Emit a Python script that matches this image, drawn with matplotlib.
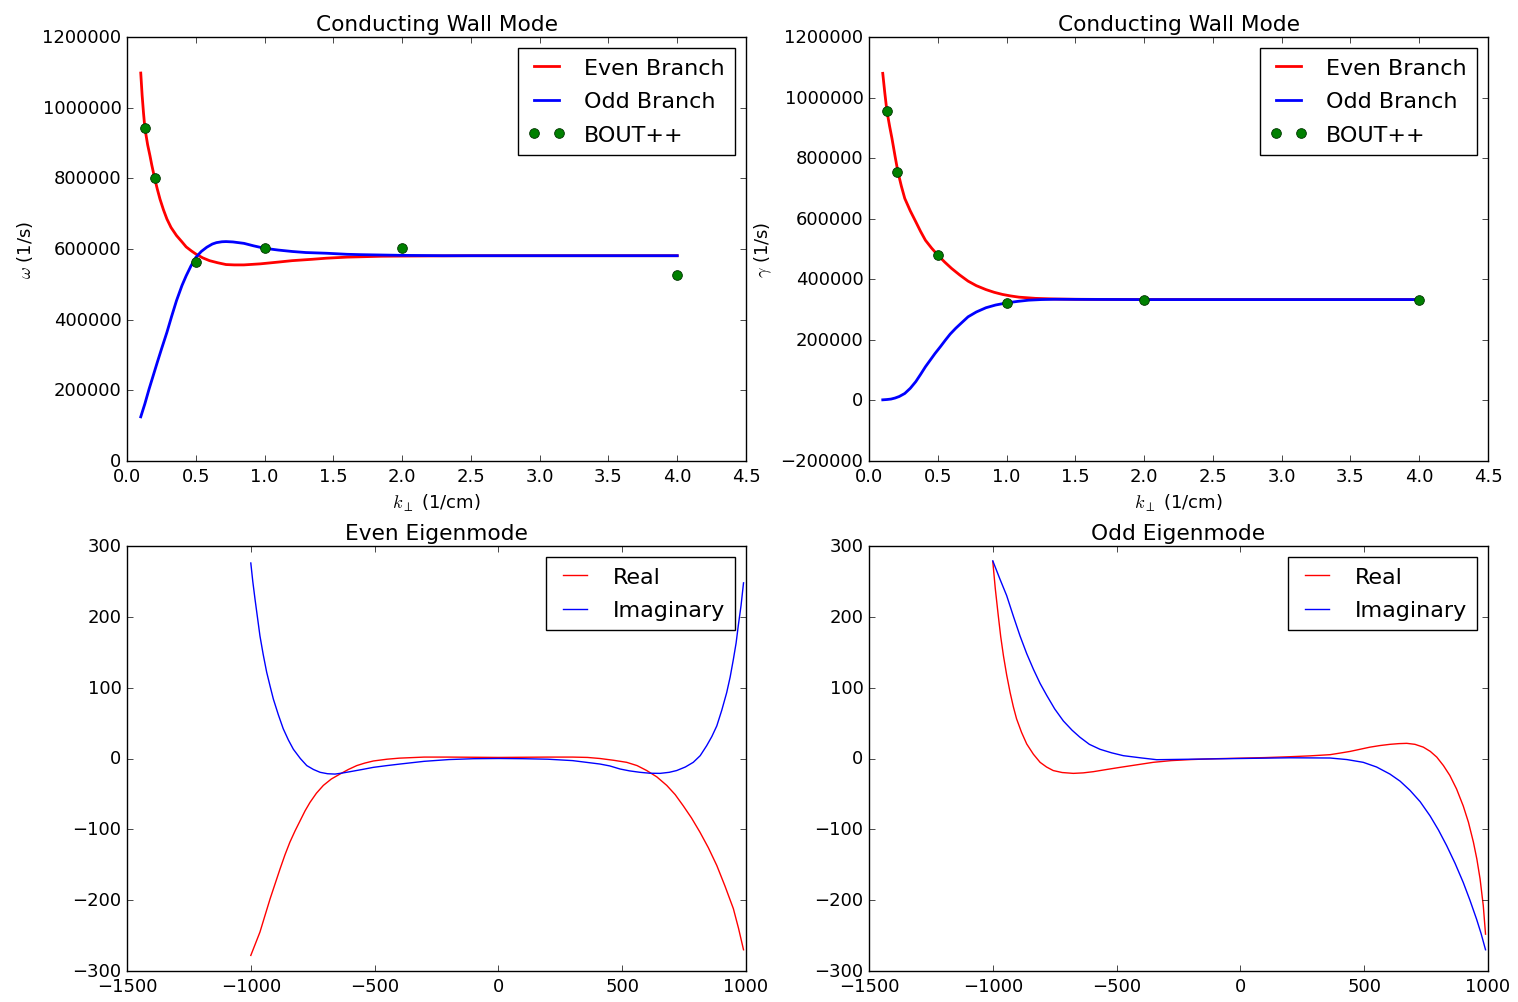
import matplotlib
matplotlib.use("Agg")
import matplotlib.pyplot as plt
from matplotlib.ticker import MultipleLocator

plt.style.use('classic')
plt.rcParams['font.size'] = 13
plt.rcParams['mathtext.fontset'] = 'cm'

# ---------------- data: dispersion (top row) ----------------
k_omega_even = [0.10, 0.11, 0.12, 0.13, 0.15, 0.167, 0.18, 0.20, 0.22, 0.24, 0.265, 0.29,
                0.32, 0.36, 0.40, 0.43, 0.47, 0.50, 0.55, 0.60, 0.66, 0.72, 0.78, 0.85,
                0.97, 1.1, 1.2, 1.35, 1.45, 1.6, 1.7, 1.85, 2.0, 2.5, 3.0, 3.5, 4.0]
omega_even = [1098000, 1035000, 985000, 942000, 895000, 864000, 838000, 802000, 770000,
              741000, 711000, 685000, 661000, 638000, 620000, 606000, 594000, 586000,
              575000, 567000, 561000, 556000, 555000, 555000, 558000, 563000, 567000,
              571000, 574000, 577000, 578000, 579500, 580000, 581000, 581000, 581000, 581000]

k_omega_odd = [0.10, 0.13, 0.16, 0.19, 0.22, 0.25, 0.29, 0.325, 0.36, 0.40, 0.43, 0.465,
               0.50, 0.54, 0.58, 0.62, 0.65, 0.69, 0.72, 0.77, 0.85, 0.92, 1.0, 1.1, 1.2,
               1.3, 1.45, 1.6, 1.7, 1.85, 2.0, 2.3, 3.0, 3.5, 4.0]
omega_odd = [125000, 162000, 203000, 241000, 279000, 316000, 364000, 410000, 454000,
             497000, 524000, 552000, 576000, 593000, 605000, 614000, 618000, 620500,
             621000, 620000, 616000, 609000, 602000, 597000, 593000, 590000, 588000,
             585000, 584000, 583000, 582000, 581000, 581000, 581000, 581000]

k_gamma_even = [0.10, 0.115, 0.13, 0.15, 0.167, 0.19, 0.21, 0.235, 0.26, 0.30, 0.34, 0.375,
                0.41, 0.455, 0.50, 0.55, 0.60, 0.66, 0.72, 0.78, 0.85, 0.91, 0.97, 1.03,
                1.09, 1.15, 1.21, 1.35, 1.5, 1.7, 2.0, 3.0, 4.0]
gamma_even = [1080000, 1015000, 956000, 905000, 865000, 805000, 755000, 708000, 667000,
              626000, 590000, 558000, 529000, 503000, 480000, 457000, 436000, 414000,
              394000, 379000, 366000, 357000, 350000, 345000, 341000, 339000, 337000,
              335000, 334000, 333500, 333000, 333000, 333000]

k_gamma_odd = [0.10, 0.13, 0.16, 0.19, 0.22, 0.26, 0.30, 0.34, 0.375, 0.41, 0.445, 0.48,
               0.52, 0.555, 0.59, 0.63, 0.67, 0.72, 0.78, 0.85, 0.92, 1.0, 1.08, 1.16,
               1.25, 1.35, 1.6, 2.0, 3.0, 4.0]
gamma_odd = [2000, 3000, 4500, 8000, 13000, 23000, 40000, 62000, 86000, 111000, 133000,
             155000, 178000, 199000, 219000, 238000, 255000, 276000, 292000, 306000,
             315000, 322000, 327000, 331000, 333000, 334000, 333500, 333000, 333000, 333000]

k_bout = [0.13, 0.2, 0.5, 1.0, 2.0, 4.0]
omega_bout = [942000, 802000, 563000, 602000, 602000, 527000]
gamma_bout = [956000, 755000, 480000, 322000, 333000, 333000]

# ---------------- data: eigenmodes (bottom row) ----------------
x_even_re = [-1000, -982, -963, -943, -922, -902, -882, -862, -842, -821, -801, -781, -761,
             -735, -707, -675, -640, -606, -572, -540, -505, -450, -400, -300, -200, 0,
             200, 300, 360, 410, 465, 518, 560, 599, 640, 680, 714, 747, 780, 814, 848,
             882, 915, 949, 970, 990]
even_re = [-278, -262, -245, -222, -198, -177, -156, -136, -118, -102, -88, -74, -62, -49,
           -38, -29, -22, -15.5, -10, -6.5, -3.5, -1, 0.5, 2, 2, 1.5, 2, 2, 1.5, 0, -2.5,
           -5.4, -10, -17, -26, -38, -51, -67, -84, -104, -126, -151, -180, -212, -240, -270]

x_even_im = [-1000, -992, -983, -973, -963, -950, -936, -922, -909, -889, -869, -848, -828,
             -800, -774, -747, -720, -690, -660, -630, -599, -550, -505, -450, -397, -300,
             -200, -100, 0, 100, 200, 300, 410, 450, 491, 530, 572, 612, 653, 690, 720,
             755, 787, 815, 841, 862, 882, 902, 922, 936, 949, 960, 969, 980, 990]
even_im = [276, 250, 225, 199, 173, 147, 122, 102, 84, 62, 42, 26, 13, 0, -10, -15.5,
           -19.5, -21.5, -22, -20.5, -18.6, -15.5, -12.5, -10, -7.8, -4, -1.5, -0.3, 0,
           -0.3, -1, -3, -7.8, -10.5, -14.8, -17.5, -19.5, -20.8, -21, -19.5, -17, -12,
           -5.4, 4, 18, 31, 46, 68, 93, 115, 140, 163, 188, 216, 248]

x_odd_re = [-1000, -990, -978, -968, -957, -944, -930, -917, -904, -884, -863, -836, -809,
            -783, -756, -720, -675, -635, -594, -540, -486, -420, -352, -280, -200, -100,
            0, 100, 200, 280, 362, 400, 443, 483, 523, 564, 604, 640, 672, 705, 739, 767,
            793, 820, 846, 873, 900, 921, 941, 955, 968, 981, 990]
odd_re = [278, 240, 202, 172, 145, 118, 93, 73, 56, 37, 20.5, 6, -5.4, -12, -17, -19.8,
          -21, -20.3, -18.6, -15.5, -12.5, -9, -5.4, -3, -1.5, -0.3, 0.5, 1.3, 2.5, 3.7,
          5.4, 7.5, 10, 13, 16, 18.3, 20, 21, 21.4, 20, 16, 10, 2, -10, -24, -43, -67,
          -90, -118, -142, -170, -208, -248]

x_odd_im = [-1000, -972, -944, -917, -890, -863, -836, -809, -782, -750, -715, -680, -648,
            -610, -567, -520, -473, -400, -338, -200, 0, 200, 362, 430, 496, 550, 604, 645,
            685, 726, 766, 800, 833, 867, 900, 927, 954, 972, 990]
odd_im = [279, 254, 230, 201, 173, 148, 126, 106, 89, 70, 53, 40, 30, 20, 13, 8, 4, 0.8,
          -1.7, -1, 0, 1, 0.7, -1.5, -5.4, -12, -22, -32, -45, -61, -81, -101, -123, -148,
          -175, -200, -227, -247, -270]

# ---------------- figure ----------------
fig = plt.figure(figsize=(15.18, 10.03), dpi=100, facecolor='white')
W, H = 1518.0, 1003.0

def add_ax(l, r, t, b):
    return fig.add_axes([l / W, 1 - b / H, (r - l) / W, (b - t) / H])

ax1 = add_ax(127, 746, 38, 462)
ax2 = add_ax(869, 1488, 38, 462)
ax3 = add_ax(127, 746, 547, 972)
ax4 = add_ax(869, 1488, 547, 972)

leg_kw = dict(loc='upper right', fancybox=False, handlelength=1.7, handletextpad=0.85,
              numpoints=2, borderaxespad=0.5, fontsize=16, labelspacing=0.6,
              borderpad=0.45)

# top-left
ax1.plot(k_omega_even, omega_even, color='red', lw=2, label='Even Branch')
ax1.plot(k_omega_odd, omega_odd, color='blue', lw=2, label='Odd Branch')
ax1.plot(k_bout, omega_bout, 'o', color='#008000', mec='#003300', mew=0.6, ms=7, label='BOUT++')
ax1.set_xlim(0, 4.5)
ax1.set_ylim(0, 1200000)
ax1.xaxis.set_major_locator(MultipleLocator(0.5))
ax1.yaxis.set_major_locator(MultipleLocator(200000))
ax1.ticklabel_format(style='plain', useOffset=False)
ax1.set_title('Conducting Wall Mode')
ax1.set_xlabel(r'$k_\perp$ (1/cm)')
ax1.set_ylabel(r'$\omega$ (1/s)')
ax1.legend(**leg_kw)

# top-right
ax2.plot(k_gamma_even, gamma_even, color='red', lw=2, label='Even Branch')
ax2.plot(k_gamma_odd, gamma_odd, color='blue', lw=2, label='Odd Branch')
ax2.plot(k_bout, gamma_bout, 'o', color='#008000', mec='#003300', mew=0.6, ms=7, label='BOUT++')
ax2.set_xlim(0, 4.5)
ax2.set_ylim(-200000, 1200000)
ax2.xaxis.set_major_locator(MultipleLocator(0.5))
ax2.yaxis.set_major_locator(MultipleLocator(200000))
ax2.ticklabel_format(style='plain', useOffset=False)
ax2.set_title('Conducting Wall Mode')
ax2.set_xlabel(r'$k_\perp$ (1/cm)')
ax2.set_ylabel(r'$\gamma$ (1/s)')
ax2.legend(**leg_kw)

# bottom-left
ax3.plot(x_even_re, even_re, color='red', lw=1, label='Real')
ax3.plot(x_even_im, even_im, color='blue', lw=1, label='Imaginary')
ax3.set_xlim(-1500, 1000)
ax3.set_ylim(-300, 300)
ax3.xaxis.set_major_locator(MultipleLocator(500))
ax3.yaxis.set_major_locator(MultipleLocator(100))
ax3.set_title('Even Eigenmode')
ax3.legend(**leg_kw)

# bottom-right
ax4.plot(x_odd_re, odd_re, color='red', lw=1, label='Real')
ax4.plot(x_odd_im, odd_im, color='blue', lw=1, label='Imaginary')
ax4.set_xlim(-1500, 1000)
ax4.set_ylim(-300, 300)
ax4.xaxis.set_major_locator(MultipleLocator(500))
ax4.yaxis.set_major_locator(MultipleLocator(100))
ax4.set_title('Odd Eigenmode')
ax4.legend(**leg_kw)

fig.savefig('out.png', dpi=100, facecolor='white')
